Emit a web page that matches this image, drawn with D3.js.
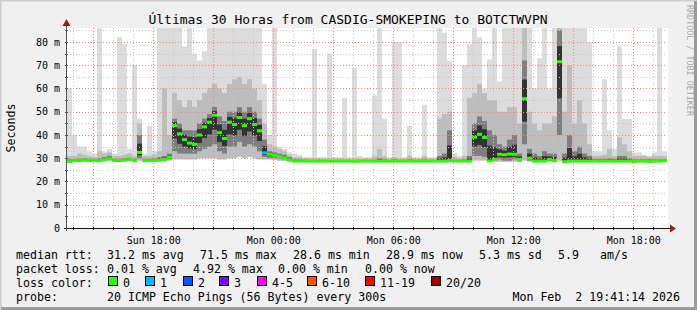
<!DOCTYPE html>
<html lang="en">
<head>
<meta charset="utf-8">
<title>Últimas 30 Horas from CASDIG-SMOKEPING to BOTCTWVPN</title>
<style>
  body { margin: 0; background: #f0f0f0; }
  svg { display: block; }
  text { font-family: "DejaVu Sans Mono", monospace; fill: #000; }
</style>
</head>
<body>
<div id="chart"></div>
<script src="https://cdn.jsdelivr.net/npm/d3@7/dist/d3.min.js"></script>
<script>
// one column = 15 minutes, 120 columns = 30 hours ending Mon Feb 2 19:41:14
var endTime = Date.UTC(2026, 1, 2, 19, 41, 14);
var hours = 30;
var step = 15 * 60 * 1000;

// median rtt (ms)
var med = [
  28.6, 29, 29, 29.3, 29, 29, 29, 29.4, 29.8, 29,
  29, 29.2, 29.6, 29, 32.5, 29, 29, 29, 29.3, 29.5,
  30.5, 44, 40.5, 38, 36.5, 36, 40, 43.5, 45.5, 48.5,
  41, 38.5, 45.5, 44.5, 47.5, 44, 47, 44.5, 41.8, 32.3,
  31.7, 31.2, 30.7, 30.2, 29.3, 28.8, 28.8, 28.8, 28.8, 28.8,
  28.8, 28.8, 28.7, 28.8, 28.8, 28.8, 28.8, 28.7, 28.8, 28.8,
  28.8, 28.8, 28.8, 28.8, 28.8, 28.8, 28.8, 28.8, 28.8, 28.8,
  28.8, 28.8, 28.8, 28.8, 28.8, 28.8, 29, 28.8, 28.8, 28.8,
  28.8, 39, 40.3, 38.9, 28.8, 29.5, 31.7, 31.5, 31.8, 31.7,
  29.5, 55.6, 30, 28.8, 28.8, 28.8, 29.5, 29, 71.5, 28.5,
  28.8, 28.8, 28.8, 28.8, 28.8, 28.8, 28.8, 28.8, 28.8, 28.8,
  28.8, 28.8, 28.8, 28.6, 28.8, 28.8, 28.6, 28.8, 28.8, 28.9
];

// lost pings out of 20 per column
var loss = [
  0,0,0,0,0,0,0,0,0,0, 0,0,0,0,0,0,0,0,0,0,
  0,0,0,0,0,0,0,0,0,0, 0,0,0,0,0,0,0,0,0,1,
  0,0,0,0,0,0,0,0,0,0, 0,0,0,0,0,0,0,0,0,0,
  0,0,0,0,0,0,0,0,0,0, 0,0,0,0,0,0,0,0,0,0,
  0,0,0,0,0,0,0,0,0,0, 0,0,0,0,0,0,0,0,0,0,
  0,0,0,0,0,0,0,0,0,0, 0,0,0,0,0,0,0,0,0,0
];

// smoke: lowest ping, lower quartile, upper quartile, 90th percentile, highest ping
var lo = [
  28, 28.4, 28.4, 28.5, 28.4, 28.4, 28.4, 28.6, 28.8, 28.4,
  28.4, 28.5, 28.6, 28.4, 29, 28.4, 28.4, 28.5, 28.5, 28.6,
  29, 29.5, 29.5, 29.5, 29.5, 29.5, 30, 30, 30, 30,
  29.5, 29.5, 30, 30, 30.5, 30, 30.5, 30, 29.5, 29.5,
  29.5, 29.3, 29, 28.8, 28.5, 28.3, 28.3, 28.3, 28.3, 28.3,
  28.3, 28.3, 28.3, 28.3, 28.3, 28.3, 28.3, 28.3, 28.3, 28.3,
  28.3, 28.3, 28.3, 28.3, 28.3, 28.3, 28.3, 28.3, 28.3, 28.3,
  28.3, 28.3, 28.3, 28.3, 28.3, 28.3, 28.4, 28.3, 28.3, 28.3,
  28.3, 29, 29, 29, 28.4, 28.5, 28.5, 28.5, 28.5, 28.5,
  28.3, 29, 28.5, 28.3, 28.3, 28.3, 28.4, 28.4, 29, 28.2,
  28.3, 28.3, 28.3, 28.3, 28.3, 28.3, 28.3, 28.3, 28.3, 28.3,
  28.3, 28.3, 28.3, 28.2, 28.3, 28.3, 28.2, 28.3, 28.3, 28.3
];
var q1 = [
  28.4, 28.7, 28.7, 28.9, 28.8, 28.8, 28.8, 29, 29.3, 28.8,
  28.8, 28.9, 29.1, 28.8, 30, 28.8, 28.8, 28.8, 28.9, 29,
  29.5, 33, 32, 32, 32, 32, 33, 34, 35, 36,
  33, 32, 35, 35, 37, 35, 36, 35, 33, 30.5,
  30.2, 30, 29.8, 29.5, 29, 28.6, 28.6, 28.6, 28.6, 28.6,
  28.6, 28.6, 28.6, 28.6, 28.6, 28.6, 28.6, 28.6, 28.6, 28.6,
  28.6, 28.6, 28.6, 28.6, 28.6, 28.6, 28.6, 28.6, 28.6, 28.6,
  28.6, 28.6, 28.6, 28.6, 28.6, 28.6, 28.8, 28.6, 28.6, 28.6,
  28.6, 31, 31, 30.5, 29, 29, 29.5, 29, 29, 29.5,
  28.7, 36, 29, 28.7, 28.7, 28.7, 28.8, 28.8, 40, 28.6,
  28.7, 28.7, 28.7, 28.7, 28.7, 28.6, 28.6, 28.6, 28.6, 28.6,
  28.6, 28.6, 28.6, 28.5, 28.6, 28.6, 28.5, 28.6, 28.6, 28.6
];
var q3 = [
  29.5, 29.6, 29.8, 30, 29.8, 29.7, 30, 30.5, 31, 29.8,
  29.8, 30, 30.3, 29.8, 40, 29.8, 29.8, 30, 30.5, 31,
  32, 47, 45, 42, 42, 42, 45, 47, 49, 52,
  48, 46, 50, 50, 52, 50, 52, 50, 47, 38,
  33, 32.5, 32, 31.5, 30.5, 29.5, 29.5, 29.3, 29.2, 29.2,
  29.2, 29.2, 29.2, 29.2, 29.2, 29.2, 29.2, 29.2, 29.2, 29.2,
  29.2, 29.2, 30, 29.5, 29.2, 29.5, 29.2, 29.2, 29.5, 29.2,
  29.2, 29.5, 29.2, 29.2, 31, 32, 42, 29.3, 29.2, 29.5,
  31, 45, 48, 46, 42, 40, 36, 35, 38, 40,
  32, 72, 34, 32, 31, 33, 32, 32, 85, 32,
  40, 33, 35, 32, 31, 29.8, 29.8, 29.8, 30, 29.8,
  31, 31, 30, 29.5, 29.5, 29.5, 29.5, 29.5, 29.5, 29.5
];
var p90 = [
  31, 31, 32, 31.5, 31, 30.5, 33, 32, 32.5, 31,
  31, 31.5, 32, 31, 45, 31, 31, 31.5, 33, 60,
  40, 58, 55, 52, 55, 52, 55, 58, 60, 62,
  60, 58, 62, 64, 65, 62, 64, 60, 55, 45,
  36, 35, 34, 33, 31.5, 30.5, 30.5, 30, 29.8, 30,
  29.8, 29.8, 30, 29.8, 29.8, 30, 29.8, 30, 29.8, 29.8,
  29.8, 31, 34, 31, 29.8, 30.5, 30, 29.8, 31, 29.8,
  29.8, 31, 29.8, 29.8, 47, 49, 50, 30.5, 30, 31,
  56, 58, 62, 58, 55, 55, 50, 50, 52, 52,
  45, 87, 50, 45, 42, 45, 45, 48, 87, 50,
  70, 45, 55, 45, 36, 31, 31, 31.5, 34, 31,
  39, 36, 33, 31, 31, 31, 30.5, 31, 31, 31
];
var mx = [
  60, 40, 35, 35, 33, 32, 87, 33, 34, 32,
  82, 79, 34, 70, 47, 32, 44, 33, 87, 87,
  87, 87, 87, 78, 87, 75, 72, 76, 87, 87,
  87, 87, 87, 87, 87, 87, 87, 87, 87, 62,
  40, 87, 35, 34, 32.5, 32, 31.5, 30.5, 30.5, 77,
  30.5, 30.5, 75, 30.5, 30.5, 56, 30.5, 69, 31, 30.5,
  30.5, 57, 87, 47, 30.5, 80, 80, 30.5, 44, 30.5,
  30.5, 53, 30.5, 30.5, 87, 84, 72, 32, 31, 70,
  79, 87, 82, 60, 72.5, 87, 63, 87, 87, 87,
  87, 87, 87, 60, 73, 87, 60, 87, 87, 87,
  87, 87, 87, 87, 80, 33, 33, 64, 42, 34,
  78, 47, 47, 32.5, 32.5, 31.5, 31, 32.5, 86, 33
];

var lossLabels = ["0", "1", "2", "3", "4-5", "6-10", "11-19", "20/20"];
var lossColors = ["#26ff00", "#00b8ff", "#0059ff", "#7e00ff", "#ff00ff", "#ff5500", "#ff0000", "#a10000"];
var lossBoxX = [108, 145, 183, 219, 257, 307, 365, 431];

var width = 697, height = 310;
var plotLeft = 67, plotRight = 667, plotTop = 28, plotBottom = 228;

var startTime = endTime - hours * 3600 * 1000;

var x = d3.scaleUtc()
  .domain([new Date(startTime), new Date(endTime)])
  .range([plotLeft, plotRight]);

var y = d3.scaleLinear()
  .domain([0, 86])
  .range([plotBottom, plotTop]);

var svg = d3.select("#chart")
  .append("svg")
  .attr("width", width)
  .attr("height", height);

// frame
svg.append("rect").attr("width", width).attr("height", height).attr("fill", "#f0f0f0");
svg.append("path").attr("d", "M0,309V0H697").attr("fill", "none").attr("stroke", "#cbcbcb").attr("stroke-width", 3);
svg.append("path").attr("d", "M1,308.5H695.5V1").attr("fill", "none").attr("stroke", "#9a9a9a").attr("stroke-width", 3);

svg.append("rect")
  .attr("x", plotLeft).attr("y", plotTop)
  .attr("width", plotRight - plotLeft + 1).attr("height", plotBottom - plotTop)
  .attr("fill", "#fff");

svg.append("defs").append("clipPath").attr("id", "plot")
  .append("rect")
  .attr("x", plotLeft).attr("y", plotTop)
  .attr("width", plotRight - plotLeft).attr("height", plotBottom - plotTop);

var cols = med.map(function(m, i) {
  return {
    t0: new Date(startTime + i * step), t1: new Date(startTime + (i + 1) * step),
    med: m, loss: loss[i], lo: lo[i], q1: q1[i], q3: q3[i], p90: p90[i], mx: mx[i]
  };
});

// smoke, outer layers first
var bands = [
  { a: function(d) { return d.lo; }, b: function(d) { return d.mx; }, c: "#dcdcdc" },
  { a: function(d) { return d.lo; }, b: function(d) { return d.p90; }, c: "#bdbdbd" },
  { a: function(d) { return d.q1; }, b: function(d) { return d.q3; }, c: "#7e7e7e" },
  { a: function(d) { return (d.q1 + d.med) / 2; }, b: function(d) { return (d.med + d.q3) / 2; }, c: "#333" }
];

var smoke = svg.append("g").attr("clip-path", "url(#plot)");
bands.forEach(function(band) {
  smoke.append("g").selectAll("rect")
    .data(cols)
    .enter().append("rect")
      .attr("x", function(d) { return x(d.t0); })
      .attr("width", function(d) { return x(d.t1) - x(d.t0); })
      .attr("y", function(d) { return y(band.b(d)); })
      .attr("height", function(d) { return Math.max(0, y(band.a(d)) - y(band.b(d))); })
      .attr("fill", band.c);
});

// grid
var grid = svg.append("g").attr("stroke-width", 1).attr("fill", "none").attr("shape-rendering", "crispEdges");
var hourTicks = x.ticks(d3.utcHour.every(1));
grid.selectAll(".vx")
  .data(hourTicks)
  .enter().append("line")
    .attr("x1", function(d) { return Math.round(x(d)) + 0.5; })
    .attr("x2", function(d) { return Math.round(x(d)) + 0.5; })
    .attr("y1", plotTop).attr("y2", plotBottom)
    .attr("stroke", function(d) { return d.getUTCHours() % 3 == 0 ? "#ff8080" : "#c8c8c8"; })
    .attr("stroke-dasharray", "1,2");

var msTicks = d3.range(5, 86, 5);
grid.selectAll(".hy")
  .data(msTicks)
  .enter().append("line")
    .attr("x1", plotLeft).attr("x2", plotRight)
    .attr("y1", function(d) { return Math.round(y(d)) + 0.5; })
    .attr("y2", function(d) { return Math.round(y(d)) + 0.5; })
    .attr("stroke", function(d) { return d % 10 == 0 ? "#ff8080" : "#c8c8c8"; })
    .attr("stroke-dasharray", "1,2");

// median line, coloured by loss
svg.append("g").attr("clip-path", "url(#plot)")
  .selectAll("rect")
  .data(cols)
  .enter().append("rect")
    .attr("x", function(d) { return x(d.t0); })
    .attr("width", function(d) { return x(d.t1) - x(d.t0); })
    .attr("y", function(d) { return y(d.med) - 1.5; })
    .attr("height", 3)
    .attr("fill", function(d) { return lossColors[d.loss]; });

// axes
var xAxis = d3.axisBottom(x)
  .ticks(d3.utcHour.every(6))
  .tickFormat(d3.utcFormat("%a %H:%M"))
  .tickSize(0)
  .tickPadding(9);
var gx = svg.append("g").attr("transform", "translate(0," + plotBottom + ")").call(xAxis);
gx.select(".domain").remove();
gx.selectAll("text").attr("font-size", "10px").attr("font-family", "DejaVu Sans Mono");

var yAxis = d3.axisLeft(y)
  .tickValues(d3.range(0, 81, 10))
  .tickFormat(function(d) { return d == 0 ? "0" : d + " m"; })
  .tickSize(0)
  .tickPadding(7);
var gy = svg.append("g").attr("transform", "translate(" + plotLeft + ",0)").call(yAxis);
gy.select(".domain").remove();
gy.selectAll("text").attr("font-size", "10px").attr("font-family", "DejaVu Sans Mono");

var axes = svg.append("g").attr("shape-rendering", "crispEdges");
axes.selectAll(".tx")
  .data(hourTicks)
  .enter().append("line")
    .attr("x1", function(d) { return Math.round(x(d)) + 0.5; })
    .attr("x2", function(d) { return Math.round(x(d)) + 0.5; })
    .attr("y1", plotBottom - 1).attr("y2", plotBottom + 2)
    .attr("stroke", "#222");
axes.selectAll(".ty")
  .data(msTicks)
  .enter().append("line")
    .attr("x1", plotLeft - 2).attr("x2", plotLeft + 1)
    .attr("y1", function(d) { return Math.round(y(d)) + 0.5; })
    .attr("y2", function(d) { return Math.round(y(d)) + 0.5; })
    .attr("stroke", "#555");
axes.append("line")
  .attr("x1", plotLeft - 3).attr("x2", plotRight + 4)
  .attr("y1", plotBottom + 0.5).attr("y2", plotBottom + 0.5)
  .attr("stroke", "#111");
axes.append("line")
  .attr("x1", plotLeft - 0.5).attr("x2", plotLeft - 0.5)
  .attr("y1", plotBottom + 3).attr("y2", plotTop - 5)
  .attr("stroke", "#555");
svg.append("path")
  .attr("d", "M" + (plotRight + 3) + "," + (plotBottom - 3.5) + "l6,4l-6,4z")
  .attr("fill", "#9b1c1c");
svg.append("path")
  .attr("d", "M" + (plotLeft - 4.5) + "," + (plotTop - 2) + "l4,-7l4,7z")
  .attr("fill", "#9b1c1c");

// titles
svg.append("text")
  .attr("x", 348).attr("y", 24)
  .attr("text-anchor", "middle")
  .attr("font-size", "13px")
  .text("Últimas 30 Horas from CASDIG-SMOKEPING to BOTCTWVPN");

svg.append("text")
  .attr("transform", "translate(15,128) rotate(-90)")
  .attr("text-anchor", "middle")
  .attr("font-size", "11.6px")
  .text("Seconds");

svg.append("text")
  .attr("transform", "translate(687,5) rotate(90)")
  .attr("font-size", "8.4px")
  .style("fill", "#a8a8a8")
  .text("RRDTOOL / TOBI OETIKER");

// legend
var legend = [
  { y: 258.5, parts: [[16, "median rtt:"], [107, "31.2 ms avg"], [200, "71.5 ms max"], [293, "28.6 ms min"], [386, "28.9 ms now"], [479, "5.3 ms sd"], [558, "5.9"], [600, "am/s"]] },
  { y: 272.5, parts: [[16, "packet loss:"], [107, "0.01 % avg"], [193, "4.92 % max"], [278, "0.00 % min"], [365, "0.00 % now"]] },
  { y: 286.5, parts: [[16, "loss color:"]] },
  { y: 300.5, parts: [[16, "probe:"], [107, "20 ICMP Echo Pings (56 Bytes) every 300s"]] }
];
legend.forEach(function(line) {
  line.parts.forEach(function(p) {
    svg.append("text")
      .attr("x", p[0]).attr("y", line.y)
      .attr("font-size", "11.6px")
      .style("white-space", "pre")
      .text(p[1]);
  });
});
svg.append("text")
  .attr("x", 680).attr("y", 300.5)
  .attr("text-anchor", "end")
  .attr("font-size", "11.6px")
  .style("white-space", "pre")
  .text("Mon Feb  2 19:41:14 2026");

var lg = svg.append("g").selectAll("g")
  .data(lossLabels)
  .enter().append("g");
lg.append("rect")
  .attr("x", function(d, i) { return lossBoxX[i] + 0.5; })
  .attr("y", 276.5)
  .attr("width", 9).attr("height", 9)
  .attr("fill", function(d, i) { return lossColors[i]; })
  .attr("stroke", "#000");
lg.append("text")
  .attr("x", function(d, i) { return lossBoxX[i] + 15; })
  .attr("y", 286.5)
  .attr("font-size", "11.6px")
  .text(function(d) { return d; });
</script>
</body>
</html>
